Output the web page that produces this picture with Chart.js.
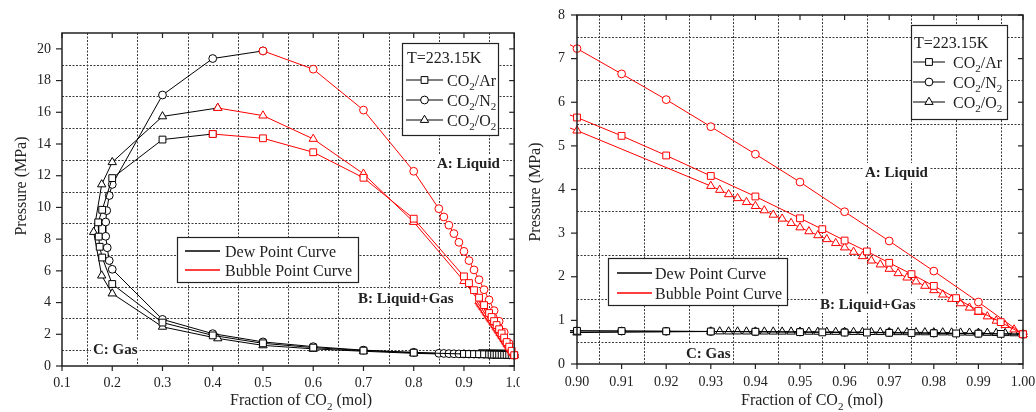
<!DOCTYPE html>
<html>
<head>
<meta charset="utf-8">
<script src="https://cdn.jsdelivr.net/npm/chart.js@4.4.1/dist/chart.umd.min.js"></script>
<style>
    body { margin: 0; background: #fff; }
    #wrap { position: relative; width: 1036px; height: 412px; overflow: hidden; }
    #leftBox { position: absolute; left: 0; top: 0; width: 520px; height: 412px; }
    #rightBox { position: absolute; left: 520px; top: 0; width: 516px; height: 412px; }
</style>
</head>
<body>
<div id="wrap">
    <div id="leftBox"><canvas id="leftChart" width="520" height="412"></canvas></div>
    <div id="rightBox"><canvas id="rightChart" width="516" height="412"></canvas></div>
</div>
<script>
// ==================== Data (fraction of CO2 / pressure MPa) ====================
// CO2/Ar
const arDewX = [0.4, 0.3, 0.2, 0.18, 0.172, 0.173, 0.175, 0.18, 0.2, 0.3, 0.4, 0.5, 0.6, 0.7, 0.8,
    0.9, 0.91, 0.92, 0.93, 0.94, 0.95, 0.955, 0.96, 0.965, 0.97, 0.975, 0.98, 0.985, 0.99, 0.995, 1.0];
const arDewP = [14.63, 14.28, 11.85, 9.85, 9.06, 8.16, 7.52, 6.84, 5.17, 2.74, 1.93, 1.43, 1.16, 0.97, 0.84,
    0.76, 0.755, 0.75, 0.745, 0.74, 0.73, 0.725, 0.72, 0.72, 0.715, 0.71, 0.705, 0.70, 0.695, 0.69, 0.682];
const arBubX = [0.4, 0.5, 0.6, 0.7, 0.8, 0.9, 0.91, 0.92, 0.93, 0.94, 0.95, 0.955, 0.96, 0.965, 0.97,
    0.975, 0.98, 0.985, 0.99, 0.995, 1.0];
const arBubP = [14.63, 14.36, 13.48, 11.87, 9.29, 5.65, 5.23, 4.78, 4.31, 3.84, 3.34, 3.09, 2.83, 2.58, 2.32,
    2.06, 1.79, 1.51, 1.22, 0.96, 0.682];

// CO2/N2
const n2DewX = [0.5, 0.4, 0.3, 0.2, 0.194, 0.189, 0.187, 0.187, 0.19, 0.194, 0.2, 0.3, 0.4, 0.5, 0.6, 0.7, 0.8,
    0.85, 0.86, 0.87, 0.88, 0.89, 0.9, 0.91, 0.92, 0.93, 0.94, 0.95, 0.96, 0.97, 0.98, 0.99, 1.0];
const n2DewP = [19.87, 19.39, 17.09, 11.45, 10.75, 9.8, 9.08, 8.18, 7.46, 6.65, 6.1, 2.94, 2.04, 1.52, 1.22, 1.0, 0.86,
    0.80, 0.79, 0.78, 0.77, 0.765, 0.76, 0.755, 0.75, 0.745, 0.74, 0.735, 0.73, 0.72, 0.71, 0.70, 0.682];
const n2BubX = [0.5, 0.6, 0.7, 0.8, 0.85, 0.86, 0.87, 0.88, 0.89, 0.9, 0.91, 0.92, 0.93, 0.94, 0.95,
    0.96, 0.97, 0.98, 0.99, 1.0];
const n2BubP = [19.87, 18.72, 16.14, 12.28, 9.92, 9.4, 8.88, 8.35, 7.8, 7.23, 6.65, 6.06, 5.44, 4.81, 4.17,
    3.49, 2.82, 2.13, 1.42, 0.682];

// CO2/O2
const o2DewX = [0.41, 0.3, 0.2, 0.179, 0.163, 0.179, 0.2, 0.3, 0.41, 0.5, 0.6, 0.7, 0.8, 0.9,
    0.930, 0.932, 0.934, 0.936, 0.938, 0.940, 0.942, 0.944, 0.946, 0.948,
    0.950, 0.952, 0.954, 0.956, 0.958, 0.960, 0.962, 0.964, 0.966, 0.968,
    0.970, 0.972, 0.974, 0.976, 0.978, 0.980, 0.982, 0.984, 0.986, 0.988,
    0.990, 0.992, 0.994, 0.996, 0.998, 1.0];
const o2DewP = [16.27, 15.74, 12.85, 11.45, 8.45, 5.7, 4.57, 2.47, 1.74, 1.3, 1.08, 0.93, 0.8, 0.72,
    0.745, 0.745, 0.744, 0.744, 0.743, 0.742, 0.742, 0.741, 0.740, 0.740,
    0.739, 0.738, 0.737, 0.736, 0.735, 0.734, 0.733, 0.732, 0.731, 0.730,
    0.729, 0.728, 0.727, 0.726, 0.725, 0.724, 0.722, 0.720, 0.718, 0.716,
    0.714, 0.712, 0.709, 0.706, 0.702, 0.682];
const o2BubX = [0.41, 0.5, 0.6, 0.7, 0.8, 0.9,
    0.930, 0.932, 0.934, 0.936, 0.938, 0.940, 0.942, 0.944, 0.946, 0.948,
    0.950, 0.952, 0.954, 0.956, 0.958, 0.960, 0.962, 0.964, 0.966, 0.968,
    0.970, 0.972, 0.974, 0.976, 0.978, 0.980, 0.982, 0.984, 0.986, 0.988,
    0.990, 0.992, 0.994, 0.996, 0.998, 1.0];
const o2BubP = [16.27, 15.79, 14.32, 12.12, 9.08, 5.35,
    4.08, 3.99, 3.89, 3.80, 3.71, 3.62, 3.52, 3.42, 3.33, 3.23,
    3.13, 3.04, 2.95, 2.86, 2.77, 2.67, 2.57, 2.47, 2.37, 2.28,
    2.18, 2.08, 1.98, 1.89, 1.79, 1.69, 1.59, 1.49, 1.39, 1.29,
    1.19, 1.09, 0.99, 0.89, 0.79, 0.682];

// Ticks and grid positions
const leftXTicks = [0.1, 0.2, 0.3, 0.4, 0.5, 0.6, 0.7, 0.8, 0.9, 1.0];
const leftYTicks = [0, 2, 4, 6, 8, 10, 12, 14, 16, 18, 20];
const leftGridX = [0.15, 0.25, 0.35, 0.45, 0.55, 0.65, 0.75, 0.85, 0.95];
const leftGridY = [1, 3, 5, 7, 9, 11, 13, 15, 17, 19];
const rightXTicks = [0.90, 0.91, 0.92, 0.93, 0.94, 0.95, 0.96, 0.97, 0.98, 0.99, 1.00];
const rightYTicks = [0, 1, 2, 3, 4, 5, 6, 7, 8];
const rightGridX = [0.905, 0.915, 0.925, 0.935, 0.945, 0.955, 0.965, 0.975, 0.985, 0.995];
const rightGridY = [0.5, 1.5, 2.5, 3.5, 4.5, 5.5, 6.5, 7.5];

// ==================== Helpers ====================
const serif = '"Liberation Serif", "Times New Roman", serif';
const RED = '#ff0000';
const BLACK = '#000000';
const INK = '#222222';

function series(xs, ys, color, shape) {
    const radius = shape === 'rect' ? 4.8 : (shape === 'triangle' ? 4.8 : 3.9);
    return {
        data: xs.map((x, i) => ({ x: x, y: ys[i] })),
        showLine: true,
        borderColor: color,
        borderWidth: 1,
        pointStyle: shape,
        pointRadius: radius,
        pointBorderColor: color,
        pointBackgroundColor: '#ffffff',
        pointBorderWidth: 1,
        tension: 0,
        clip: 7
    };
}

function richText(ctx, parts, x, y, size, align) {
    const sub = Math.round(size * 0.66);
    let w = 0;
    parts.forEach(([t, s]) => {
        ctx.font = (s ? sub : size) + 'px ' + serif;
        w += ctx.measureText(t).width;
    });
    let cx = align === 'center' ? x - w / 2 : x;
    ctx.textAlign = 'left';
    ctx.textBaseline = 'alphabetic';
    parts.forEach(([t, s]) => {
        ctx.font = (s ? sub : size) + 'px ' + serif;
        ctx.fillText(t, cx, s ? y + size * 0.3 : y);
        cx += ctx.measureText(t).width;
    });
}

function seg(ctx, x1, y1, x2, y2) {
    ctx.beginPath();
    ctx.moveTo(x1, y1);
    ctx.lineTo(x2, y2);
    ctx.stroke();
}

// Draws dotted grid, frame, tick marks, legends and region labels
function decorPlugin(cfg) {
    return {
        id: 'decor',
        beforeDatasetsDraw(chart) {
            const { ctx, chartArea: a, scales: { x, y } } = chart;
            ctx.save();
            ctx.strokeStyle = '#3a3a3a';
            ctx.lineWidth = 1;
            ctx.setLineDash([2, 1.5]);
            cfg.gridX.forEach(v => {
                const px = Math.round(x.getPixelForValue(v)) + 0.5;
                seg(ctx, px, a.top, px, a.bottom);
            });
            cfg.gridY.forEach(v => {
                const py = Math.round(y.getPixelForValue(v)) + 0.5;
                seg(ctx, a.left, py, a.right, py);
            });
            ctx.restore();
        },
        afterDatasetsDraw(chart) {
            const { ctx, chartArea: a, scales: { x, y } } = chart;
            ctx.save();
            ctx.strokeStyle = INK;
            ctx.lineWidth = 1.5;
            ctx.strokeRect(a.left, a.top, a.right - a.left, a.bottom - a.top);
            ctx.lineWidth = 1.2;
            cfg.xTicks.forEach(v => {
                const px = x.getPixelForValue(v);
                seg(ctx, px, a.bottom, px, a.bottom + 5);
                seg(ctx, px, a.top, px, a.top + 5);
            });
            cfg.yTicks.forEach(v => {
                const py = y.getPixelForValue(v);
                seg(ctx, a.left - 6, py, a.left, py);
                seg(ctx, a.right - 5, py, a.right, py);
            });
            ctx.restore();
        },
        afterDraw(chart) {
            const ctx = chart.ctx;
            ctx.save();
            ctx.fillStyle = INK;

            // axis titles
            richText(ctx, [['Fraction of CO', 0], ['2', 1], [' (mol)', 0]], cfg.xTitle[0], cfg.xTitle[1], 16, 'center');
            ctx.save();
            ctx.translate(cfg.yTitle[0], cfg.yTitle[1]);
            ctx.rotate(-Math.PI / 2);
            ctx.font = '16px ' + serif;
            ctx.textAlign = 'center';
            ctx.textBaseline = 'middle';
            ctx.fillText('Pressure (MPa)', 0, 0);
            ctx.restore();

            // region labels
            ctx.font = 'bold 15px ' + serif;
            cfg.regions.forEach(([text, rx, ry]) => {
                const w = ctx.measureText(text).width;
                ctx.fillStyle = '#fff';
                ctx.fillRect(rx - 2, ry - 9, w + 4, 18);
                ctx.fillStyle = INK;
                ctx.textAlign = 'left';
                ctx.textBaseline = 'middle';
                ctx.fillText(text, rx, ry + 1);
            });

            // symbol legend
            const s = cfg.symLegend;
            ctx.fillStyle = '#fff';
            ctx.fillRect(s.box[0], s.box[1], s.box[2] - s.box[0], s.box[3] - s.box[1]);
            ctx.strokeStyle = INK;
            ctx.lineWidth = 1.2;
            ctx.strokeRect(s.box[0] + 0.5, s.box[1] + 0.5, s.box[2] - s.box[0], s.box[3] - s.box[1]);
            ctx.fillStyle = INK;
            ctx.font = '16px ' + serif;
            ctx.textAlign = 'left';
            ctx.textBaseline = 'alphabetic';
            ctx.fillText('T=223.15K', s.line[0] + 1, s.rows[0] + 5.5);
            const items = [
                ['rect', 4.8, [['CO', 0], ['2', 1], ['/Ar', 0]]],
                ['circle', 3.9, [['CO', 0], ['2', 1], ['/N', 0], ['2', 1]]],
                ['triangle', 4.8, [['CO', 0], ['2', 1], ['/O', 0], ['2', 1]]]
            ];
            items.forEach(([shape, r, parts], i) => {
                const ry = s.rows[i + 1];
                ctx.strokeStyle = BLACK;
                ctx.lineWidth = 1;
                seg(ctx, s.line[0], ry, s.line[1], ry);
                ctx.fillStyle = '#fff';
                Chart.helpers.drawPoint(ctx, { pointStyle: shape, radius: r, borderWidth: 1, rotation: 0 },
                    (s.line[0] + s.line[1]) / 2, ry);
                ctx.fillStyle = INK;
                richText(ctx, parts, s.textX, ry + 5.5, 16, 'left');
            });

            // curve legend
            const c = cfg.curveLegend;
            ctx.fillStyle = '#fff';
            ctx.fillRect(c.box[0], c.box[1], c.box[2] - c.box[0], c.box[3] - c.box[1]);
            ctx.strokeStyle = INK;
            ctx.lineWidth = 1.2;
            ctx.strokeRect(c.box[0] + 0.5, c.box[1] + 0.5, c.box[2] - c.box[0], c.box[3] - c.box[1]);
            [['Dew Point Curve', BLACK], ['Bubble Point Curve', RED]].forEach(([label, color], i) => {
                const ry = c.rows[i];
                ctx.strokeStyle = color;
                ctx.lineWidth = 1.3;
                seg(ctx, c.line[0], ry, c.line[1], ry);
                ctx.fillStyle = INK;
                ctx.font = '16px ' + serif;
                ctx.textAlign = 'left';
                ctx.textBaseline = 'alphabetic';
                ctx.fillText(label, c.textX, ry + 5.5);
            });
            ctx.restore();
        }
    };
}

function makeChart(canvasId, cfg) {
    const ctx = document.getElementById(canvasId).getContext('2d');
    return new Chart(ctx, {
        type: 'scatter',
        data: {
            datasets: [
                series(arBubX, arBubP, RED, 'rect'),
                series(n2BubX, n2BubP, RED, 'circle'),
                series(o2BubX, o2BubP, RED, 'triangle'),
                series(arDewX, arDewP, BLACK, 'rect'),
                series(n2DewX, n2DewP, BLACK, 'circle'),
                series(o2DewX, o2DewP, BLACK, 'triangle')
            ]
        },
        options: {
            responsive: false,
            animation: false,
            devicePixelRatio: 1,
            layout: { padding: cfg.padding },
            plugins: { legend: { display: false }, tooltip: { enabled: false } },
            scales: {
                x: {
                    type: 'linear',
                    min: cfg.xMin,
                    max: cfg.xMax,
                    grid: { display: false, drawTicks: false },
                    border: { display: false },
                    afterBuildTicks: scale => { scale.ticks = cfg.xTicks.map(v => ({ value: v })); },
                    afterFit: scale => {
                        scale.height = cfg.xAxisHeight;
                        scale.paddingLeft = 0;
                        scale.paddingRight = 0;
                    },
                    ticks: {
                        autoSkip: false,
                        maxRotation: 0,
                        padding: cfg.xTickPad,
                        color: INK,
                        font: { family: serif, size: 14 },
                        callback: v => v.toFixed(cfg.xDigits)
                    }
                },
                y: {
                    type: 'linear',
                    min: cfg.yMin,
                    max: cfg.yMax,
                    grid: { display: false, drawTicks: false },
                    border: { display: false },
                    afterBuildTicks: scale => { scale.ticks = cfg.yTicks.map(v => ({ value: v })); },
                    afterFit: scale => {
                        scale.width = cfg.yAxisWidth;
                        scale.paddingTop = 0;
                        scale.paddingBottom = 0;
                    },
                    ticks: {
                        autoSkip: false,
                        padding: cfg.yTickPad,
                        color: INK,
                        font: { family: serif, size: 14 },
                        callback: v => String(v)
                    }
                }
            }
        },
        plugins: [decorPlugin(cfg)]
    });
}

// ==================== Charts ====================
document.addEventListener('DOMContentLoaded', () => {
    makeChart('leftChart', {
        xMin: 0.1, xMax: 1.0, yMin: 0, yMax: 21, xDigits: 1,
        xTicks: leftXTicks, yTicks: leftYTicks, gridX: leftGridX, gridY: leftGridY,
        padding: { top: 33, right: 4, bottom: 0, left: 0 },
        yAxisWidth: 62, xAxisHeight: 46, xTickPad: 9, yTickPad: 11,
        xTitle: [301, 405], yTitle: [22, 186],
        regions: [['A: Liquid', 437, 163], ['B: Liquid+Gas', 358, 298], ['C: Gas', 93, 349]],
        symLegend: { box: [402, 43, 498, 135], line: [406, 443], textX: 447, rows: [57, 80, 100, 120] },
        curveLegend: { box: [177, 237, 358, 282], line: [185, 220], textX: 225, rows: [251, 270] }
    });
    makeChart('rightChart', {
        xMin: 0.9, xMax: 1.0, yMin: 0, yMax: 8, xDigits: 2,
        xTicks: rightXTicks, yTicks: rightYTicks, gridX: rightGridX, gridY: rightGridY,
        padding: { top: 15, right: 13, bottom: 0, left: 0 },
        yAxisWidth: 57, xAxisHeight: 48, xTickPad: 10, yTickPad: 12,
        xTitle: [292, 405], yTitle: [16, 192],
        regions: [['A: Liquid', 345, 172], ['B: Liquid+Gas', 300, 304], ['C: Gas', 166, 353]],
        symLegend: { box: [391, 25, 487, 119], line: [393, 425], textX: 433, rows: [42, 62, 82, 102] },
        curveLegend: { box: [88, 258, 267, 305], line: [97, 132], textX: 135, rows: [273, 293] }
    });
});
</script>
</body>
</html>
